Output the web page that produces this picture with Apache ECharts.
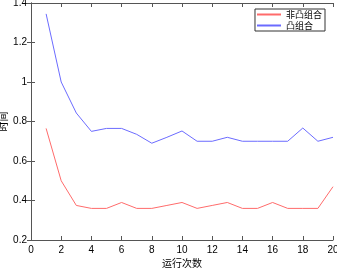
<!DOCTYPE html>
<html>
<head>
<meta charset="utf-8">
<script src="https://cdn.jsdelivr.net/npm/echarts@6/dist/echarts.min.js"></script>
<style>html,body{margin:0;padding:0;background:#fff}</style>
</head>
<body>
<div id="main" style="width:337px;height:268px"></div>
<script>
var runs = [1,2,3,4,5,6,7,8,9,10,11,12,13,14,15,16,17,18,19,20];
var nonConvex = [0.765,0.50,0.375,0.36,0.36,0.39,0.36,0.36,0.375,0.39,0.36,0.375,0.39,0.36,0.36,0.39,0.36,0.36,0.36,0.47];
var convex = [1.345,1.00,0.843,0.75,0.765,0.765,0.735,0.69,0.72,0.752,0.70,0.70,0.72,0.70,0.70,0.70,0.70,0.767,0.70,0.72];
var seriesNames = ['非凸组合','凸组合'];

function pairs(ys) {
    return runs.map(function (x, i) { return [x, ys[i]]; });
}

var axisCommon = {
    axisLine: { show: true, lineStyle: { color: '#555', width: 1 } },
    axisTick: { show: true, inside: true, length: 4, lineStyle: { color: '#555' } },
    splitLine: { show: false }
};

var myChart = echarts.init(document.getElementById('main'));
var option = {
    animation: false,
    textStyle: { fontFamily: 'Liberation Sans, Arial, sans-serif' },
    grid: { left: 31, right: 4, top: 3, bottom: 28, containLabel: false, outerBoundsMode: 'none' },
    legend: {
        data: seriesNames,
        orient: 'vertical',
        right: 12,
        top: 9,
        itemWidth: 24,
        itemHeight: 2,
        itemGap: 2,
        icon: 'rect',
        borderColor: '#333',
        borderWidth: 1,
        borderRadius: 0,
        padding: [1, 3, 1, 2],
        textStyle: { fontSize: 9, color: '#000', fontFamily: 'Noto Sans CJK SC' }
    },
    xAxis: [
        Object.assign({
            type: 'value', min: 0, max: 20, interval: 2,
            name: '运行次数', nameLocation: 'middle', nameGap: 18, nameMoveOverlap: false,
            nameTextStyle: { fontSize: 10, color: '#000', fontFamily: 'Noto Sans CJK SC' },
            axisLabel: { fontSize: 10, color: '#000', margin: 5 }
        }, axisCommon),
        Object.assign({
            type: 'value', min: 0, max: 20, interval: 2, position: 'top',
            axisLabel: { show: false }
        }, axisCommon)
    ],
    yAxis: [
        Object.assign({
            type: 'value', min: 0.2, max: 1.4, interval: 0.2,
            name: '时间', nameLocation: 'middle', nameGap: 23, nameMoveOverlap: false,
            nameTextStyle: { fontSize: 10, color: '#000', fontFamily: 'Noto Sans CJK SC' },
            axisLabel: { fontSize: 10, color: '#000', margin: 4, formatter: function (v) { return String(+v.toFixed(1)); } }
        }, axisCommon),
        Object.assign({
            type: 'value', min: 0.2, max: 1.4, interval: 0.2, position: 'right',
            axisLabel: { show: false }
        }, axisCommon)
    ],
    series: [
        {
            name: seriesNames[0], type: 'line', data: pairs(nonConvex),
            showSymbol: false, symbol: 'none',
            itemStyle: { color: '#ff6b6b' },
            lineStyle: { color: '#ff6b6b', width: 1 }
        },
        {
            name: seriesNames[1], type: 'line', data: pairs(convex),
            showSymbol: false, symbol: 'none',
            itemStyle: { color: '#6b6bff' },
            lineStyle: { color: '#6b6bff', width: 1 }
        }
    ]
};
myChart.setOption(option);
</script>
</body>
</html>
